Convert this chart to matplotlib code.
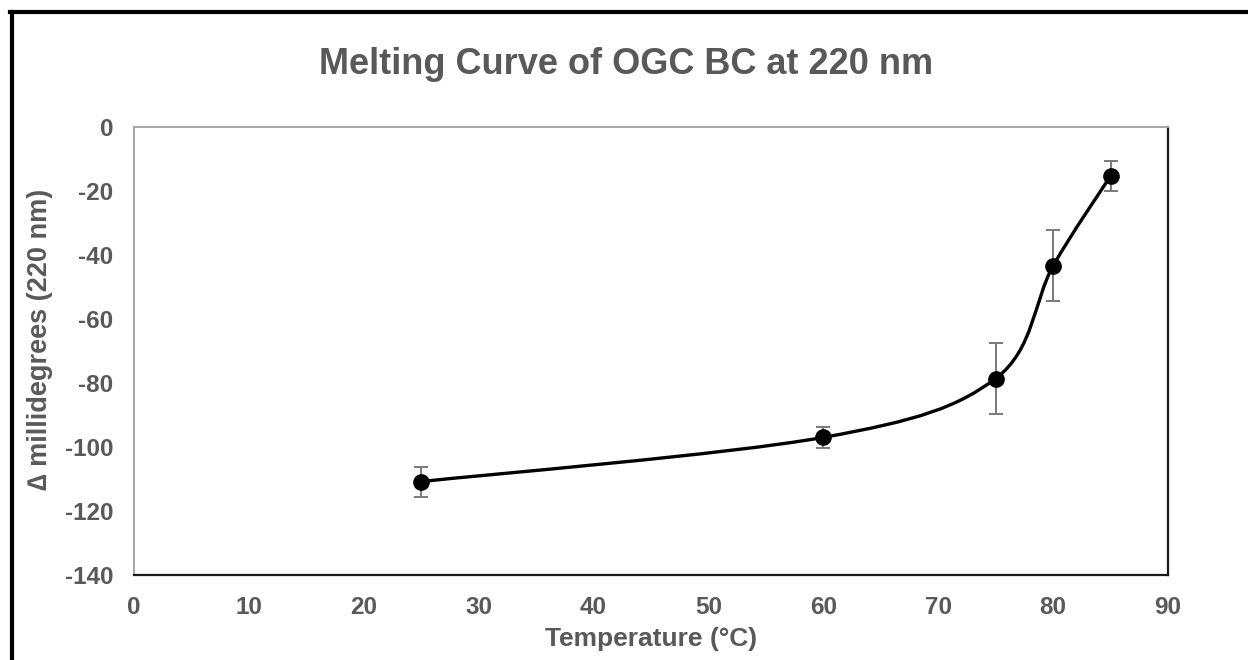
import matplotlib
matplotlib.use('Agg')
import matplotlib.pyplot as plt
import numpy as np
from matplotlib.path import Path
from matplotlib.patches import PathPatch
from matplotlib.lines import Line2D

plt.rcParams['font.family'] = ['Liberation Sans', 'DejaVu Sans']
plt.rcParams['axes.unicode_minus'] = False

# data
temps = [25, 60, 75, 80, 85]
mdeg = [-110.8, -97.0, -78.6, -43.4, -15.3]
errs = [4.7, 3.3, 11.0, 11.1, 4.7]

xticks = [0, 10, 20, 30, 40, 50, 60, 70, 80, 90]
yticks = [0, -20, -40, -60, -80, -100, -120, -140]

grey = '#595959'

fig = plt.figure(figsize=(12.48, 6.6), dpi=100)
ax = fig.add_axes([0.1074, 0.1288, 0.8285, 0.6788])

# excel-like smoothed line (cubic bezier through the points)
pts = np.column_stack([temps, mdeg])
n = len(pts)
verts = [pts[0]]
codes = [Path.MOVETO]
for i in range(n - 1):
    p0 = pts[max(i - 1, 0)]
    p1 = pts[i]
    p2 = pts[i + 1]
    p3 = pts[min(i + 2, n - 1)]
    c1 = p1 + (p2 - p0) / 6.0
    c2 = p2 - (p3 - p1) / 6.0
    verts.extend([c1, c2, p2])
    codes.extend([Path.CURVE4] * 3)
ax.add_patch(PathPatch(Path(verts, codes), fill=False, edgecolor='black',
                       linewidth=2.4, zorder=3, capstyle='round'))

ax.errorbar(temps, mdeg, yerr=errs, fmt='none', ecolor='#7a7a7a',
            elinewidth=1.4, capsize=5, capthick=1.4, zorder=2)
ax.plot(temps, mdeg, 'o', color='black', markersize=11, zorder=4)

ax.set_xlim(0, 90)
ax.set_ylim(-140, 0)
ax.set_xticks(xticks)
ax.set_yticks(yticks)
ax.tick_params(length=0, labelsize=17.5, colors=grey)
ax.tick_params(axis='x', pad=15)
ax.tick_params(axis='y', pad=15)
for lab in ax.get_xticklabels() + ax.get_yticklabels():
    lab.set_fontweight('bold')

for s in ['left', 'top']:
    ax.spines[s].set_color('#a6a6a6')
    ax.spines[s].set_linewidth(1.4)
for s in ['right', 'bottom']:
    ax.spines[s].set_color('#1a1a1a')
    ax.spines[s].set_linewidth(1.6)

ax.set_xlabel('Temperature (°C)', fontsize=19, fontweight='bold', color=grey)
ax.xaxis.set_label_coords(0.5, -0.115)
ax.set_ylabel('\u2206 millidegrees (220 nm)', fontsize=19.5, fontweight='bold', color=grey)
ax.yaxis.set_label_coords(-0.078, 0.525)

fig.text(0.502, 1 - 65 / 660, 'Melting Curve of OGC BC at 220 nm', ha='center', va='center',
         fontsize=26, fontweight='bold', color=grey)

# outer border (top and left only visible)
fig.add_artist(Line2D([10 / 1248, 1], [1 - 12 / 660, 1 - 12 / 660], color='black', linewidth=3))
fig.add_artist(Line2D([12 / 1248, 12 / 1248], [0, 1 - 12 / 660], color='black', linewidth=3))

fig.savefig('out.png', dpi=100)
